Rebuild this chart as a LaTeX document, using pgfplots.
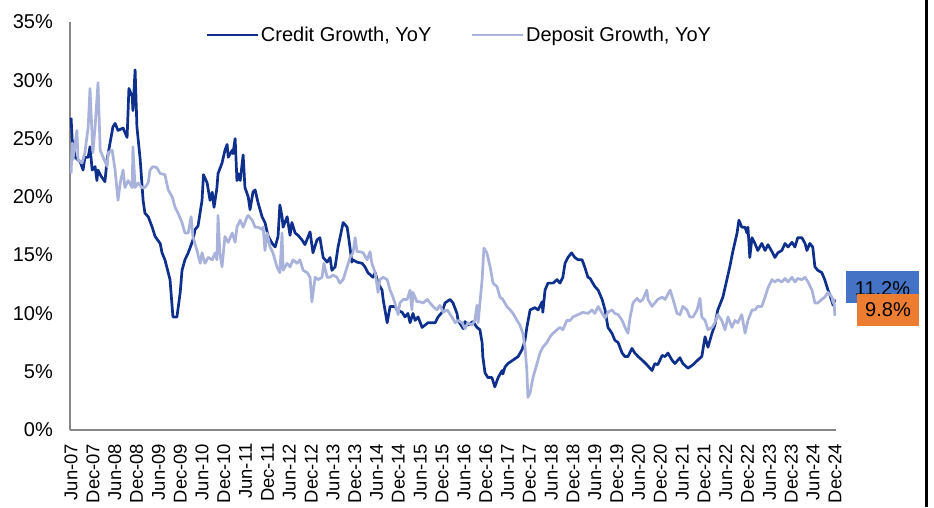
\documentclass[border=0pt]{standalone}
\usepackage{pgfplots}
\pgfplotsset{compat=1.18}
\usepackage{fontspec}
\setmainfont{Liberation Sans}
\definecolor{credit}{RGB}{14,48,140}
\definecolor{deposit}{RGB}{168,178,218}
\definecolor{boxblue}{RGB}{68,114,196}
\definecolor{boxorange}{RGB}{237,125,49}
\definecolor{axgray}{RGB}{134,134,134}
\begin{document}
\begin{tikzpicture}
\path[use as bounding box] (0,0) rectangle (934pt,507pt);
\begin{axis}[
    at={(70pt,77pt)}, anchor=south west,
    scale only axis,
    width=766pt, height=408pt,
    xmin=-0.3, xmax=210.3,
    ymin=0, ymax=35,
    axis x line=bottom, axis y line=left,
    axis line style={-, axgray, line width=1.2pt},
    major tick length=0pt,
    xtick={0,6,...,210},
    xticklabels={Jun-07,Dec-07,Jun-08,Dec-08,Jun-09,Dec-09,Jun-10,Dec-10,Jun-11,Dec-11,Jun-12,Dec-12,Jun-13,Dec-13,Jun-14,Dec-14,Jun-15,Dec-15,Jun-16,Dec-16,Jun-17,Dec-17,Jun-18,Dec-18,Jun-19,Dec-19,Jun-20,Dec-20,Jun-21,Dec-21,Jun-22,Dec-22,Jun-23,Dec-23,Jun-24,Dec-24},
    ytick={0,5,...,35},
    yticklabels={0\%,5\%,10\%,15\%,20\%,25\%,30\%,35\%},
    yticklabel style={anchor=east, inner sep=0pt, font=\fontsize{20}{23}\selectfont},
    xticklabel style={rotate=90, anchor=east, inner sep=0pt, font=\fontsize{18.5}{21}\selectfont},
    xticklabel shift=13.5pt,
    yticklabel shift=17pt,
    legend columns=2,
    legend style={draw=none, fill=none, at={(0.508,0.968)}, anchor=center,
        font=\fontsize{20}{23}\selectfont,
        /tikz/every even column/.append style={column sep=37pt}},
    legend image code/.code={\draw[#1] (0pt,0pt) -- (51pt,0pt);},
    every axis plot/.append style={line width=2.7pt, line join=round},
]
\addplot[credit] coordinates {
(0,26.8)(0.3,24.9)(1.1,23.4)(2.5,23.0)(3.3,22.3)(3.8,23.4)(4.7,23.4)(5.2,24.3)(5.8,22.3)(6.6,22.6)(7.1,21.4)(7.4,22.3)(8.2,21.8)(9.3,21.3)(9.9,23.2)(10.7,24.6)(11.5,26.0)(12.1,26.3)(12.9,25.7)(14.3,25.9)(15.4,25.1)(15.9,29.3)(16.8,28.6)(17.0,27.4)(17.6,30.9)(18.1,26.0)(19.0,23.2)(19.8,19.7)(20.3,18.6)(21.2,18.3)(22.3,17.4)(23.1,16.6)(24.5,16.0)(25.0,15.2)(25.8,14.6)(27.2,12.9)(28.0,9.7)(29.1,9.7)(30.0,11.8)(30.5,13.7)(31.3,14.6)(32.2,15.2)(33.5,16.3)(34.1,17.2)(34.9,17.5)(36.0,19.7)(36.4,21.9)(37.4,21.2)(38.2,19.7)(38.8,20.4)(39.3,19.1)(40.1,20.8)(40.4,22.0)(41.5,22.9)(42.3,24.0)(42.9,24.5)(43.2,23.4)(44.3,24.0)(44.5,23.7)(45.1,25.0)(45.6,21.4)(45.9,22.0)(46.5,21.4)(47.3,23.6)(47.8,20.8)(48.7,20.0)(49.2,18.9)(50.0,20.4)(50.6,20.6)(51.4,19.5)(52.5,18.3)(53.3,17.8)(54.2,16.6)(55.3,16.0)(56.1,15.7)(56.9,16.6)(57.4,19.3)(58.0,18.3)(58.3,17.4)(59.4,18.3)(60.2,16.7)(60.7,17.8)(61.6,16.9)(62.4,16.7)(63.5,16.3)(64.3,15.9)(65.7,17.0)(66.5,15.2)(67.6,16.3)(68.4,16.5)(69.3,14.8)(70.4,14.4)(71.2,14.8)(71.7,13.7)(72.6,14.0)(73.4,15.7)(74.8,17.8)(75.9,17.4)(76.4,16.3)(77.2,14.4)(77.5,14.6)(78.6,14.4)(80.0,14.3)(80.8,14.0)(81.6,13.5)(83.0,13.1)(83.6,13.5)(84.4,12.6)(85.5,12.0)(85.8,11.2)(86.9,9.2)(87.7,10.6)(89.1,10.6)(89.6,10.3)(91.0,10.1)(91.8,9.7)(92.6,10.0)(93.2,9.2)(94.0,10.0)(94.6,9.4)(95.4,9.7)(96.5,8.8)(98.1,9.2)(100.1,9.2)(100.9,9.7)(102.0,10.1)(102.8,10.9)(104.2,11.2)(105.0,10.9)(106.1,10.0)(106.4,9.4)(107.8,8.7)(108.3,9.3)(109.1,9.0)(110.5,9.3)(111.6,8.8)(112.4,8.6)(113.0,7.5)(113.2,6.3)(113.8,4.9)(114.6,4.5)(115.7,4.5)(116.5,3.7)(117.4,4.5)(118.5,5.1)(118.7,4.8)(119.3,5.4)(120.1,5.7)(121.5,6.0)(122.9,6.3)(124.0,6.9)(124.2,7.1)(124.8,7.7)(125.3,8.8)(126.2,10.3)(127.5,10.5)(128.4,10.3)(129.5,11.0)(129.7,10.1)(130.3,12.0)(131.1,12.6)(132.5,12.6)(133.6,12.9)(134.4,12.6)(135.2,13.1)(135.8,14.3)(136.6,14.8)(137.6,15.2)(138.5,14.8)(139.4,14.6)(140.5,14.6)(141.3,13.9)(142.1,13.1)(142.7,13.0)(144.0,12.3)(144.9,12.0)(146.0,11.2)(146.8,10.3)(147.6,8.8)(148.7,8.3)(149.5,7.7)(150.4,7.5)(151.5,6.6)(152.3,6.3)(153.1,6.3)(154.2,7.0)(155.0,6.6)(155.9,6.3)(157.0,6.0)(158.3,5.6)(159.7,5.1)(160.5,5.7)(161.3,5.6)(162.5,6.4)(163.3,6.3)(164.1,6.6)(165.2,6.0)(166.0,5.7)(167.4,6.2)(168.2,5.7)(169.6,5.3)(171.0,5.6)(172.3,6.0)(173.4,6.3)(174.3,8.0)(175.1,7.1)(176.2,8.3)(177.0,9.0)(177.8,10.3)(179.2,11.4)(180.3,12.9)(181.1,14.0)(182.0,15.4)(183.1,16.9)(183.6,18.0)(184.4,17.4)(185.3,17.4)(185.8,16.9)(186.1,17.4)(186.6,14.8)(187.2,16.5)(188.0,16.0)(188.8,15.4)(189.9,16.0)(190.8,15.4)(191.6,15.9)(192.7,15.3)(193.5,14.8)(194.3,15.2)(195.4,15.4)(196.3,16.0)(197.1,15.7)(198.2,16.1)(199.0,15.7)(199.8,16.5)(200.9,16.5)(201.8,16.0)(202.3,15.4)(203.1,16.0)(203.9,15.7)(204.5,14.0)(205.3,13.7)(206.4,13.5)(207.2,12.9)(208.1,12.0)(208.6,11.6)(209.0,11.2)(209.5,10.7)(210.0,11.2)
};
\addplot[deposit] coordinates {
(0,22.0)(0.3,24.6)(0.5,23.2)(1.6,25.7)(1.9,23.2)(3.0,22.9)(3.8,23.8)(4.7,26.0)(5.2,29.3)(5.8,25.1)(6.0,23.8)(6.6,26.0)(7.4,29.8)(8.0,24.0)(8.8,23.4)(9.9,22.6)(10.2,23.8)(11.3,24.0)(12.1,22.3)(12.9,19.7)(13.5,21.2)(14.3,22.3)(14.8,20.8)(15.7,21.4)(16.8,20.8)(17.0,24.3)(17.6,20.8)(18.4,21.2)(19.5,20.8)(20.3,20.8)(21.2,21.2)(21.7,22.3)(22.5,22.6)(23.6,22.5)(24.5,22.0)(25.8,21.9)(26.7,20.6)(27.8,20.0)(28.6,19.1)(29.4,18.6)(30.5,17.8)(31.3,16.9)(32.2,16.9)(33.0,18.3)(33.5,16.6)(34.6,15.4)(35.5,14.3)(36.0,15.2)(36.8,14.3)(37.7,14.8)(38.8,14.6)(39.6,15.2)(40.1,14.6)(40.4,18.4)(40.9,15.2)(41.5,14.0)(42.3,16.6)(43.2,16.1)(44.3,16.9)(45.1,16.1)(45.6,17.4)(46.5,18.0)(47.3,17.4)(48.4,18.3)(48.7,18.4)(49.8,18.0)(50.6,17.4)(51.4,17.4)(52.5,17.2)(52.8,17.4)(53.3,15.4)(53.9,16.9)(54.7,15.7)(55.5,15.2)(56.6,14.0)(57.4,13.5)(58.0,16.9)(58.3,13.7)(59.4,14.3)(60.2,14.0)(61.0,14.6)(62.1,14.3)(62.9,14.6)(63.8,13.7)(64.9,13.5)(65.7,13.1)(66.2,11.0)(67.1,13.1)(67.9,12.9)(69.0,13.1)(69.5,14.3)(70.4,13.1)(71.2,13.1)(72.0,13.3)(73.1,13.1)(73.9,12.6)(74.8,12.9)(75.9,14.0)(76.7,14.8)(77.5,15.2)(78.1,16.5)(78.6,15.3)(79.4,15.3)(80.3,15.2)(81.4,14.6)(82.2,15.3)(82.7,14.3)(83.6,13.5)(84.4,11.8)(84.9,12.9)(85.8,13.1)(86.9,12.9)(87.7,12.0)(88.5,11.4)(89.6,10.3)(89.9,9.9)(90.4,10.9)(91.3,11.2)(92.4,11.2)(93.2,12.0)(93.7,10.3)(94.0,11.8)(95.1,11.0)(95.9,11.0)(96.8,10.9)(97.9,11.2)(98.7,10.9)(99.5,10.6)(100.6,10.3)(101.4,10.7)(102.3,10.1)(103.4,10.3)(104.7,9.7)(105.6,9.2)(106.4,9.4)(107.5,9.2)(108.3,8.7)(109.1,9.2)(110.2,9.0)(111.0,9.4)(111.6,10.7)(111.9,9.2)(113.0,12.9)(113.5,15.6)(114.3,15.2)(115.2,14.0)(116.0,12.6)(117.1,12.3)(117.9,11.4)(118.7,11.2)(119.8,10.6)(120.7,10.3)(121.5,10.0)(122.6,9.4)(123.4,9.0)(124.2,8.3)(124.8,7.1)(125.3,5.1)(125.6,2.8)(126.2,3.2)(127.0,4.5)(128.1,5.7)(128.9,6.6)(129.7,7.1)(130.8,7.5)(131.7,8.0)(132.5,8.3)(133.6,8.6)(134.4,8.8)(135.2,8.6)(136.3,9.4)(137.2,9.4)(138.0,9.7)(139.4,9.9)(140.7,10.1)(142.1,10.0)(143.2,10.3)(144.0,10.0)(144.9,10.6)(146.0,10.0)(146.8,9.6)(147.6,10.1)(148.7,10.3)(149.5,10.0)(150.4,9.9)(151.5,9.4)(152.3,8.8)(153.1,8.3)(153.7,9.7)(154.5,10.9)(155.6,11.3)(156.4,11.0)(157.2,11.2)(158.3,12.0)(158.6,11.2)(159.7,10.6)(160.5,10.9)(161.3,11.2)(162.5,11.4)(163.3,11.2)(164.7,12.0)(165.5,11.2)(166.6,10.0)(167.4,9.9)(168.2,10.6)(169.3,10.3)(170.1,9.7)(171.0,9.7)(172.1,10.3)(172.9,11.3)(173.4,9.7)(174.3,9.4)(175.1,8.6)(176.2,8.8)(177.0,9.2)(177.8,9.9)(178.9,9.4)(179.8,8.6)(180.6,9.7)(181.7,8.8)(182.5,9.4)(183.3,9.2)(184.4,9.9)(185.3,8.3)(186.1,9.4)(187.2,10.3)(188.0,10.3)(188.8,10.6)(189.9,10.6)(190.8,11.4)(191.6,12.2)(192.7,12.9)(193.5,12.7)(194.3,12.9)(195.4,12.7)(196.3,13.0)(197.1,12.7)(198.2,13.1)(199.0,12.7)(199.8,13.0)(200.9,12.9)(201.8,13.1)(202.6,12.7)(203.7,12.0)(204.5,10.9)(205.3,10.9)(206.4,11.2)(207.2,11.4)(208.1,11.8)(209.2,11.4)(209.5,10.9)(209.7,11.2)(210.0,9.8)
};
\legend{{Credit Growth, YoY},{Deposit Growth, YoY}}
\end{axis}
\fill[boxblue] (846pt,204pt) rectangle (919pt,236pt);
\node[font=\fontsize{20}{23}\selectfont, inner sep=0pt] at (882.5pt,218pt) {11.2\%};
\fill[boxorange] (857pt,181pt) rectangle (919pt,213pt);
\node[font=\fontsize{20}{23}\selectfont, inner sep=0pt] at (888pt,197pt) {9.8\%};
\fill[black] (925pt,0pt) rectangle (927.5pt,507pt);
\end{tikzpicture}
\end{document}
